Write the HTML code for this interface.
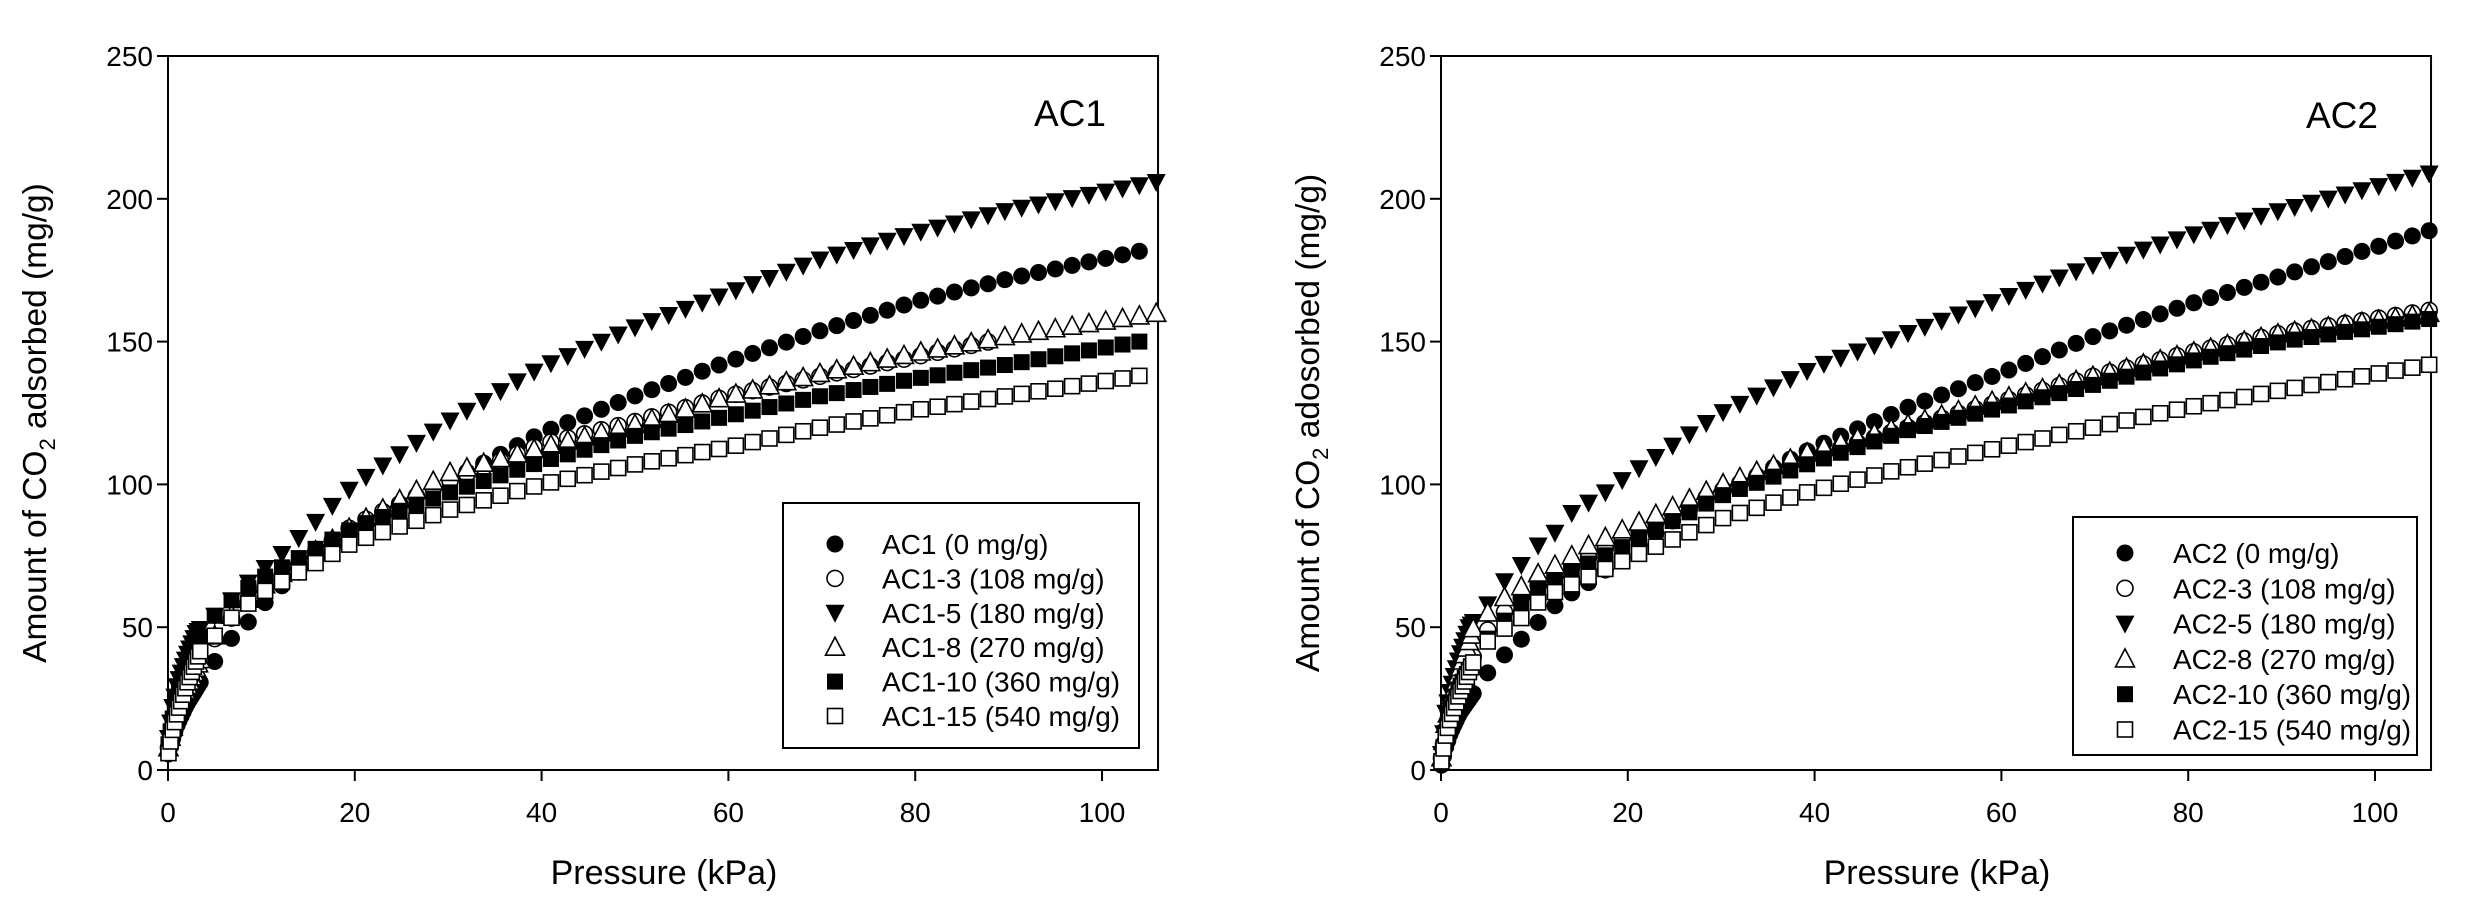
<!DOCTYPE html>
<html><head><meta charset="utf-8"><style>
html,body{margin:0;padding:0;background:#fff;}
svg{display:block;font-family:"Liberation Sans",Arial,sans-serif;}
</style></head><body>
<svg id="s" width="2470" height="915" viewBox="0 0 2470 915" xmlns="http://www.w3.org/2000/svg">
<rect width="2470" height="915" fill="#fff"/>
<g id="g"></g>
</svg>
<script>
var NS="http://www.w3.org/2000/svg";
var G=document.getElementById('g');
function el(t,a,txt){var e=document.createElementNS(NS,t);for(var k in a)e.setAttribute(k,a[k]);if(txt!==undefined)e.textContent=txt;G.appendChild(e);return e;}
function interp(an,p){for(var i=0;i<an.length-1;i++){if(p<=an[i+1][0]){var a=an[i],b=an[i+1];return a[1]+(b[1]-a[1])*(p-a[0])/(b[0]-a[0]);}}var a=an[an.length-2],b=an[an.length-1];return a[1]+(b[1]-a[1])*(p-a[0])/(b[0]-a[0]);}
function marker(type,x,y){
 if(type=='fc'){el('circle',{cx:x,cy:y,r:8.5,fill:'#000'});}
 else if(type=='oc'){el('circle',{cx:x,cy:y,r:8,fill:'#fff',stroke:'#000','stroke-width':1.6});}
 else if(type=='dt'){el('polygon',{points:(x-9.5)+','+(y-8)+' '+(x+9.5)+','+(y-8)+' '+x+','+(y+10),fill:'#000'});}
 else if(type=='ut'){el('polygon',{points:(x-9.5)+','+(y+8)+' '+(x+9.5)+','+(y+8)+' '+x+','+(y-10),fill:'#fff',stroke:'#000','stroke-width':1.6});}
 else if(type=='fs'){el('rect',{x:x-8,y:y-8,width:16,height:16,fill:'#000'});}
 else if(type=='os'){el('rect',{x:x-7.5,y:y-7.5,width:15,height:15,fill:'#fff',stroke:'#000','stroke-width':1.6});}
}
function pressures(pmax){var a=[];for(var i=0;i<16;i++)a.push(0.05+i*3.4/15);for(var p=5;p<=pmax+0.01;p+=1.8)a.push(p);return a;}
function plot(ox,title,tx,ty,series,legend,names,ylab){
 var x0=ox,sx=9.34,y0=770,sy=2.856,xr=ox+106*sx;
 el('rect',{x:x0,y:56,width:xr-x0,height:714,fill:'none',stroke:'#000','stroke-width':2});
 for(var v=0;v<=250;v+=50){var y=y0-v*sy;el('line',{x1:x0-11,y1:y,x2:x0,y2:y,stroke:'#000','stroke-width':2});
  el('text',{x:x0-15,y:y+10,'font-size':28,'text-anchor':'end'},String(v));}
 for(var p=0;p<=100;p+=20){var x=x0+p*sx;el('line',{x1:x,y1:y0,x2:x,y2:y0+11,stroke:'#000','stroke-width':2});
  el('text',{x:x,y:y0+52,'font-size':28,'text-anchor':'middle'},String(p));}
 el('text',{x:ox+496,y:884,'font-size':34,'text-anchor':'middle'},'Pressure (kPa)');
 var yl=el('text',{transform:'translate('+(ox-122)+',423) rotate(-90)','font-size':33.5,'text-anchor':'middle'});
 yl.innerHTML='Amount of CO<tspan font-size="22" dy="9">2</tspan><tspan dy="-9"> '+ylab+' (mg/g)</tspan>';
 el('text',{x:tx,y:ty,'font-size':37,'text-anchor':'start'},title);
 series.forEach(function(s){
  var ps=pressures(s.pmax);
  ps.forEach(function(p){var v=interp(s.an,p);marker(s.m,x0+p*sx,y0-v*sy);});
 });
 var L=legend;
 el('rect',{x:L.x,y:L.y,width:L.w,height:L.h,fill:'#fff',stroke:'#000','stroke-width':2});
 var ms=['fc','oc','dt','ut','fs','os'];
 for(var i=0;i<6;i++){var yy=L.r0+i*L.dr;marker(ms[i],L.mx,yy);
  el('text',{x:L.tx,y:yy+10,'font-size':28},names[i]);}
}
var A1=[
 {m:'fc',pmax:105,an:[[0,5],[0.5,11],[1,16],[2,23],[3.5,31],[5,38],[7,47],[9,53],[10.5,59],[12,64],[20,85],[30,101],[40,118],[50,131],[60,143],[70,154],[80,164],[90,172],[106,183]]},
 {m:'oc',pmax:88,an:[[0,7],[0.5,15],[1,21],[2,29],[3.5,38],[5,46],[7,54],[10,63],[20,86],[30,101],[40,114],[50,122],[60,131],[70,138],[88,150]]},
 {m:'dt',pmax:106,an:[[0,10],[0.5,22],[1,30],[2,40],[3,48],[5,54],[7,60],[9,67],[12,75],[20,100],[30,122],[40,141],[50,155],[60,167],[70,179],[80,188],[90,196],[106,206]]},
 {m:'ut',pmax:106,an:[[0,7],[0.5,15],[1,21],[2,29],[3.5,39],[5,47],[7,55],[10,64],[20,86],[30,104],[40,113],[50,121],[60,131],[70,139],[80,146],[90,152],[106,160]]},
 {m:'fs',pmax:104,an:[[0,8],[0.5,18],[1,26],[2,36],[3.5,47],[5,54],[7,60],[10,67],[20,85],[30,97],[40,108],[50,117],[60,124],[70,131],[80,137],[90,142],[104,150]]},
 {m:'os',pmax:104,an:[[0,5],[0.5,14],[1,20],[2,30],[3.5,42],[5,47],[7,54],[10,62],[20,80],[30,91],[40,100],[50,107],[60,113],[70,120],[80,126],[90,131],[104,138]]}
];
var A2=[
 {m:'fc',pmax:106,an:[[0,1],[0.5,8],[1,13],[2,20],[3.5,27],[5,34],[7,41],[9,47],[10.5,52],[12,57],[14,62],[16,66],[20,76],[26,90],[30,97],[40,113],[50,127],[60,139],[70,152],[80,163],[90,173],[106,189]]},
 {m:'oc',pmax:106,an:[[0,3],[0.5,14],[1,21],[2,30],[3.5,40],[5,49],[7,56],[10,64],[20,82],[30,98],[40,110],[50,120],[60,129],[70,138],[80,146],[90,153],[106,161]]},
 {m:'dt',pmax:106,an:[[0,4],[0.5,20],[1,28],[2,40],[3,50],[5,58],[7,67],[9,73],[10.5,79],[13,85],[14,90],[18,98],[20,103],[30,125],[40,141],[50,153],[60,165],[70,177],[80,187],[90,196],[106,209]]},
 {m:'ut',pmax:106,an:[[0,3],[0.5,16],[1,24],[2,35],[3.5,50],[5,55],[7,61],[9,65],[10.5,69],[13,73],[16,79],[20,85],[30,100],[40,112],[50,121],[60,130],[70,138],[80,146],[90,153],[106,160]]},
 {m:'fs',pmax:106,an:[[0,2],[0.5,13],[1,20],[2,29],[3.5,38],[5,46],[7,53],[10,63],[20,79],[30,96],[40,108],[50,119],[60,127],[70,135],[80,143],[90,150],[106,158]]},
 {m:'os',pmax:106,an:[[0,2],[0.5,12],[1,18],[2,27],[3.5,38],[5,45],[7,50],[9,54],[10.5,59],[12,62],[20,74],[30,88],[40,98],[50,106],[60,113],[70,120],[80,127],[90,133],[106,142]]}
];
plot(168,'AC1',1034,126,A1,{x:783,y:503,w:356,h:245,mx:835,tx:882,r0:544,dr:34.4},
 ['AC1 (0 mg/g)','AC1-3 (108 mg/g)','AC1-5 (180 mg/g)','AC1-8 (270 mg/g)','AC1-10 (360 mg/g)','AC1-15 (540 mg/g)'],'adsorbed');
plot(1441,'AC2',2306,128,A2,{x:2073,y:517,w:344,h:238,mx:2125,tx:2173,r0:553,dr:35.3},
 ['AC2 (0 mg/g)','AC2-3 (108 mg/g)','AC2-5 (180 mg/g)','AC2-8 (270 mg/g)','AC2-10 (360 mg/g)','AC2-15 (540 mg/g)'],'adosorbed');
</script>
</body></html>
